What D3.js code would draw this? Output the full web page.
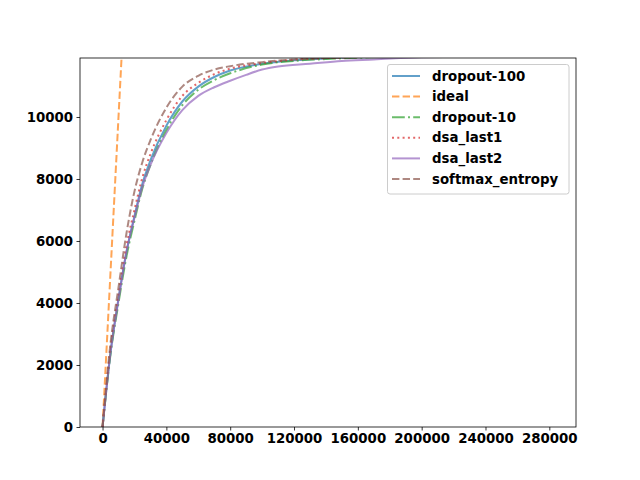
<!DOCTYPE html>
<html><head><meta charset="utf-8">
<script src="https://cdn.jsdelivr.net/npm/d3@7"></script>
<style>body{margin:0;background:#fff}svg{font-family:"DejaVu Sans",sans-serif;font-weight:bold}</style>
</head><body><svg id="c" width="640" height="480"></svg>
<script>
const seriesNames = ["dropout-100","ideal","dropout-10","dsa_last1","dsa_last2","softmax_entropy"];
const seriesColors = ["#1f77b4","#ff7f0e","#2ca02c","#d62728","#9467bd","#8c564b"];
const seriesDash = ["none","7.4,3.2","12.8,3.2,2,3.2","2,3.3","none","7.4,3.2"];
const xTicks = [0,40000,80000,120000,160000,200000,240000,280000];
const yTicks = [0,2000,4000,6000,8000,10000];
const yTop = 11903;
const xDataMax = 282590;

const commonX = [0,5000,10000,15000,20000,25000,30000,40000,50000,60000,70000,80000,100000,120000,140000,160000,200000,282590];
const dropout100Y = [0,2400,4150,5650,6800,7850,8600,9720,10500,10980,11290,11500,11720,11830,11890,11925,11960,11960];
const dropout10Y  = [0,2350,4000,5500,6650,7700,8450,9580,10380,10880,11190,11410,11690,11810,11870,11910,11960,11960];
const dsaLast1Y   = [0,2550,4250,5850,7000,8050,8800,9900,10680,11100,11380,11560,11740,11850,11900,11930,11960,11960];
const softmaxY    = [0,2700,4500,6250,7600,8550,9250,10300,10980,11330,11530,11640,11770,11855,11900,11930,11960,11960];
const dsaLast2X = [0,5000,10000,15000,20000,25000,30000,40000,50000,60000,70000,80000,90000,100000,110000,130000,150000,170000,200000,282590];
const dsaLast2Y = [0,2400,4100,5650,6750,7750,8450,9480,10220,10680,10960,11170,11360,11530,11630,11720,11810,11855,11930,11960];
const idealX = [0,12000];
const idealY = [0,12000];

const allX = [commonX, idealX, commonX, commonX, dsaLast2X, commonX];
const allY = [dropout100Y, idealY, dropout10Y, dsaLast1Y, dsaLast2Y, softmaxY];

const L=80, R=576, T=58, B=427;
const pad = 0.05*xDataMax;
const x = d3.scaleLinear().domain([-pad, xDataMax+pad]).range([L,R]);
const y = d3.scaleLinear().domain([0, yTop]).range([B,T]);
const svg = d3.select("#c");

svg.append("defs").append("clipPath").attr("id","clip")
  .append("rect").attr("x",L).attr("y",T).attr("width",R-L).attr("height",B-T);

const line = d3.line().x(d=>x(d[0])).y(d=>y(d[1])).curve(d3.curveMonotoneX);
const g = svg.append("g").attr("clip-path","url(#clip)");
seriesNames.forEach((n,i)=>{
  const pts = allX[i].map((v,j)=>[v, allY[i][j]]);
  g.append("path").datum(pts).attr("d",line).attr("fill","none")
   .attr("stroke",seriesColors[i]).attr("stroke-opacity",0.7).attr("stroke-width",2)
   .attr("stroke-dasharray",seriesDash[i]);
});

const xa = svg.append("g").attr("transform",`translate(0,${B})`)
  .call(d3.axisBottom(x).tickValues(xTicks).tickFormat(d3.format("d")).tickSizeOuter(0).tickSize(3.5).tickPadding(3.5));
const ya = svg.append("g").attr("transform",`translate(${L},0)`)
  .call(d3.axisLeft(y).tickValues(yTicks).tickFormat(d3.format("d")).tickSizeOuter(0).tickSize(3.5).tickPadding(3.5));
[xa,ya].forEach(a=>{
  a.select(".domain").remove();
  a.selectAll("line").attr("stroke","#000").attr("stroke-width",0.8);
  a.selectAll("text").attr("fill","#000").style("font-size","13.33px").style("font-weight","bold")
   .style("font-family","'DejaVu Sans',sans-serif");
});
svg.append("rect").attr("x",L).attr("y",T).attr("width",R-L).attr("height",B-T)
  .attr("fill","none").attr("stroke","#000").attr("stroke-width",0.8);

// legend
const lg = svg.append("g");
lg.append("rect").attr("x",387.5).attr("y",64.5).attr("width",181.5).attr("height",129.5).attr("rx",2.5)
  .attr("fill","#fff").attr("fill-opacity",0.8).attr("stroke","#ccc").attr("stroke-width",1);
seriesNames.forEach((n,i)=>{
  const yy = 76 + i*20.6;
  lg.append("line").attr("x1",392).attr("x2",420).attr("y1",yy).attr("y2",yy)
    .attr("stroke",seriesColors[i]).attr("stroke-opacity",0.7).attr("stroke-width",2)
    .attr("stroke-dasharray",seriesDash[i]);
  lg.append("text").attr("x",432).attr("y",yy).attr("dy","0.35em").text(n)
    .style("font-size","13.33px").attr("fill","#000");
});
</script></body></html>
